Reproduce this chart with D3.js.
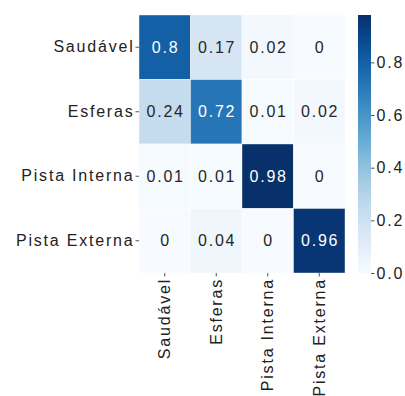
<!DOCTYPE html>
<html>
<head>
<meta charset="utf-8">
<script src="https://cdn.jsdelivr.net/npm/d3@7"></script>
<style>
  body { margin: 0; background: #fff; }
  text { font-family: "Liberation Sans", Arial, sans-serif; fill: #222; }
</style>
</head>
<body>
<svg id="chart" width="405" height="396"></svg>
<script>
let rowLabels = ["Saudável", "Esferas", "Pista Interna", "Pista Externa"]
let colLabels = ["Saudável", "Esferas", "Pista Interna", "Pista Externa"]
let matrix = [
  [0.8, 0.17, 0.02, 0],
  [0.24, 0.72, 0.01, 0.02],
  [0.01, 0.01, 0.98, 0],
  [0, 0.04, 0, 0.96]
]
let barTicks = [0, 0.2, 0.4, 0.6, 0.8]

let svg = d3.select("#chart")
let mLeft = 139, mTop = 15, w = 206, h = 258
let fontSize = 16, spacing = 1.8

let x = d3.scaleBand().domain(colLabels).range([mLeft, mLeft + w])
let y = d3.scaleBand().domain(rowLabels).range([mTop, mTop + h])
let color = d3.scaleSequential(d3.interpolateBlues).domain([0, 0.98])

let cells = []
matrix.forEach((row, i) => row.forEach((v, j) => cells.push({ r: rowLabels[i], c: colLabels[j], v: v })))

// luminance, like seaborn uses to pick text colour
function lum (c) {
  let rgb = d3.rgb(c)
  let f = u => { u /= 255; return u <= 0.03928 ? u / 12.92 : Math.pow((u + 0.055) / 1.055, 2.4) }
  return 0.2126 * f(rgb.r) + 0.7152 * f(rgb.g) + 0.0722 * f(rgb.b)
}

svg.selectAll("rect.cell").data(cells).enter().append("rect").classed("cell", true)
  .attr("x", d => x(d.c)).attr("y", d => y(d.r))
  .attr("width", x.bandwidth()).attr("height", y.bandwidth())
  .style("fill", d => color(d.v))
  .style("stroke", "#fff").style("stroke-width", 0.4)

svg.selectAll("text.annot").data(cells).enter().append("text").classed("annot", true)
  .attr("x", d => x(d.c) + x.bandwidth() / 2 + spacing / 2)
  .attr("y", d => y(d.r) + y.bandwidth() / 2)
  .attr("text-anchor", "middle").attr("dy", "0.35em")
  .style("font-size", fontSize + "px").style("letter-spacing", spacing + "px")
  .style("fill", d => lum(color(d.v)) > 0.408 ? "#262626" : "#fff")
  .text(d => d3.format("~g")(d.v))

// y axis
let yAxis = svg.append("g").attr("transform", `translate(${mLeft},0)`)
  .call(d3.axisLeft(y).tickSize(3.5).tickPadding(1))
yAxis.select(".domain").remove()
yAxis.selectAll("line").style("stroke", "#555")
yAxis.selectAll("text").style("font-size", fontSize + "px").style("letter-spacing", spacing + "px")
  .attr("fill", "#222")

// x axis, labels rotated
let xAxis = svg.append("g").attr("transform", `translate(0,${mTop + h})`)
  .call(d3.axisBottom(x).tickSize(3.5).tickPadding(2))
xAxis.select(".domain").remove()
xAxis.selectAll("line").style("stroke", "#555")
xAxis.selectAll("text")
  .style("font-size", fontSize + "px").style("letter-spacing", spacing + "px")
  .attr("fill", "#222")
  .attr("text-anchor", "end").attr("dy", "0.35em")
  .attr("transform", "rotate(-90)").attr("x", -5).attr("y", 0)

// colour bar
let barX = 358, barW = 13
let yBar = d3.scaleLinear().domain([0, 0.98]).range([mTop + h, mTop])
let grad = svg.append("defs").append("linearGradient").attr("id", "cbar")
  .attr("x1", 0).attr("y1", 1).attr("x2", 0).attr("y2", 0)
grad.selectAll("stop").data(d3.range(0, 1.0001, 0.05)).enter().append("stop")
  .attr("offset", d => d).attr("stop-color", d => color(d * 0.98))
svg.append("rect").attr("x", barX).attr("y", mTop).attr("width", barW).attr("height", h)
  .style("fill", "url(#cbar)")

let bAxis = svg.append("g").attr("transform", `translate(${barX + barW},0)`)
  .call(d3.axisRight(yBar).tickValues(barTicks).tickFormat(d3.format(".1f")).tickSize(3.5).tickPadding(2))
bAxis.select(".domain").remove()
bAxis.selectAll("line").style("stroke", "#555")
bAxis.selectAll("text").style("font-size", fontSize + "px").style("letter-spacing", spacing + "px")
  .attr("fill", "#222")

yAxis.attr("font-family", null)
xAxis.attr("font-family", null)
bAxis.attr("font-family", null)
</script>
</body>
</html>
